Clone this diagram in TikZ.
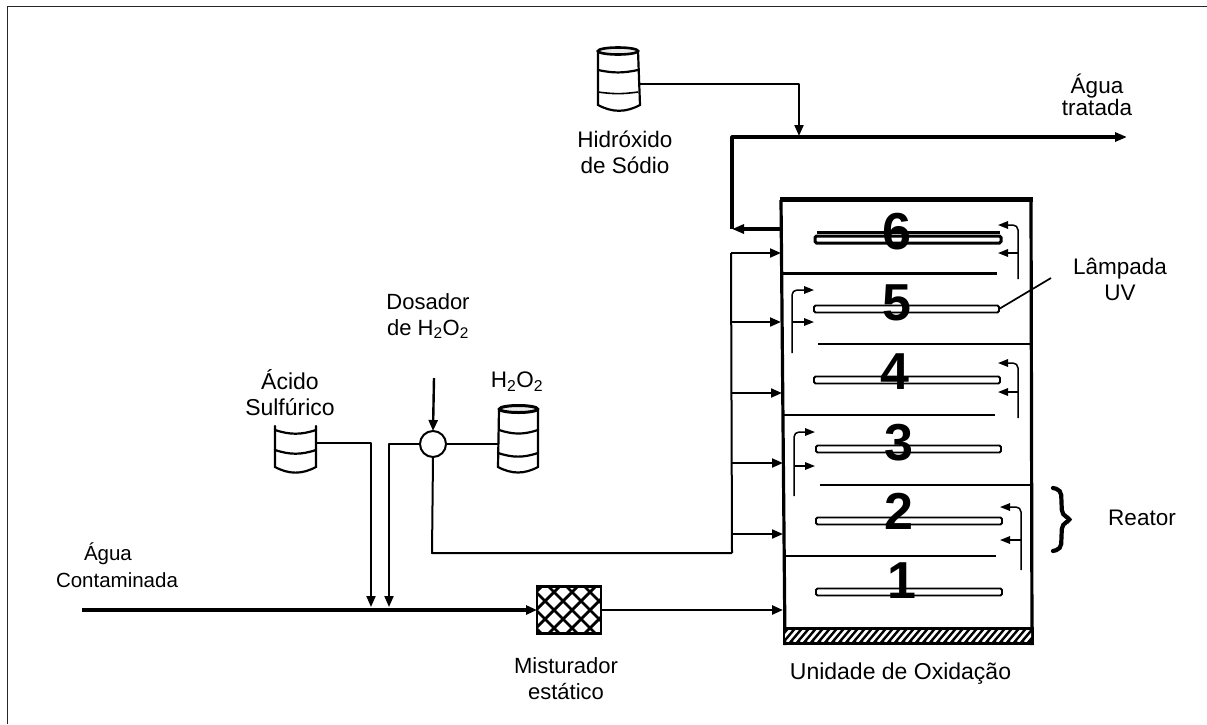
\documentclass[tikz,border=0pt]{standalone}
\usepackage{fontspec}
\setmainfont{Liberation Sans}
\usetikzlibrary{arrows.meta}
\tikzset{
  x=1pt,y=-1pt,
  every node/.style={inner sep=0pt,outer sep=0pt},
  lbl/.style={align=center,font=\fontsize{22.5}{26}\selectfont},
  num/.style={font=\bfseries\fontsize{52}{52}\selectfont},
  pipe/.style={draw=black,line width=2pt,line join=round},
  bigpipe/.style={draw=black,line width=3.2pt,line join=round},
  wall/.style={draw=black,line width=3.2pt},
  shelf/.style={draw=black,line width=2.2pt},
  lampbar/.style={draw=black,fill=white,line width=1.9pt,rounded corners=1.5pt,minimum height=7pt,anchor=west},
  flow/.style={draw=black,line width=1.5pt,rounded corners=5pt},
  tip/.style={-{Triangle[length=11pt,width=9pt]}},
  smalltip/.style={-{Triangle[length=10pt,width=7.5pt]}},
  drumline/.style={draw=black,line width=2.2pt,line cap=round},
}
\begin{document}
\begin{tikzpicture}
\useasboundingbox (0,0) rectangle (1207,724);
% frame
\draw[line width=1.8pt,draw=black!85] (7.5,724) -- (7.5,6.5) -- (1207,6.5);

% reactor walls
\draw[wall] (781,200) -- (785,645);
\draw[wall] (1031,200) -- (1032,645);
\draw[line width=4.5pt] (780,199.5) -- (1033,199.5);
% hatched base
\fill[black] (783,627) rectangle (1034,645);
\begin{scope}
\clip (785,630) rectangle (1031,641);
\foreach \h in {780,787,...,1040}{\draw[white,line width=2.6pt] (\h,642) -- (\h+11,629);}
\end{scope}
% shelves
\draw[shelf,line width=3.2pt] (781,273.5) -- (997,273.5);
\draw[shelf] (818,344) -- (1031,344);
\draw[shelf] (782,415) -- (995,415);
\draw[shelf] (820,485) -- (1031,485);
\draw[shelf] (786,556) -- (996,556);

% lamps
\draw[line width=3pt] (817,232) -- (1000,232);
\node[lampbar,minimum width=186pt,line width=3pt] (lamp6) at (815,239.5) {};
\node[lampbar,minimum width=185pt] (lamp5) at (814,309) {};
\node[lampbar,minimum width=186pt] (lamp4) at (814,380) {};
\node[lampbar,minimum width=185pt] (lamp3) at (816,449) {};
\node[lampbar,minimum width=186pt] (lamp2) at (816,521) {};
\node[lampbar,minimum width=186pt] (lamp1) at (816,592) {};

% numbers
\node[num] (n6) at (897,232) {6};
\node[num] (n5) at (897,303) {5};
\node[num] (n4) at (895,372) {4};
\node[num] (n3) at (899,443) {3};
\node[num] (n2) at (899,511) {2};
\node[num] (n1) at (902,581) {1};

% internal flow arrows, right side
\foreach \xb/\yb/\yt/\ym/\tp in {1018/279/225/253/998, 1018/418/363/392/998, 1021/570/507/540/1000}{
  \draw[flow,smalltip] (\xb,\yb) -- (\xb,\yt) -- (\tp,\yt);
  \draw[line width=1.5pt,smalltip] (\xb,\ym) -- (\tp,\ym);
}
% internal flow arrows, left side
\foreach \xb/\yb/\yt/\ym/\tp in {792/353/290/322/814, 794/496/432/466/815}{
  \draw[flow,smalltip] (\xb,\yb) -- (\xb,\yt) -- (\tp,\yt);
  \draw[line width=1.5pt,smalltip] (\xb,\ym) -- (\tp,\ym);
}

% manifold
\coordinate (cornerFeed) at (432,553);
\coordinate (manTop) at (731,253);
\coordinate (manBot) at (732,553);
\draw[pipe] (manTop) -- (manBot);
\foreach \y/\xx in {253/781,322/781,393/782,463/783,534/783}{
  \draw[line width=2pt,tip] (731,\y) -- (\xx,\y);
}

% mixer
\node[minimum width=64pt,minimum height=47pt] (mixer) at (569,610) {};
\begin{scope}
\clip (mixer.south west) rectangle (mixer.north east);
\foreach \c in {-60,-42,...,140}{
  \draw[line width=2.8pt] (530+\c,580) -- (530+\c+60,640);
  \draw[line width=2.8pt] (530+\c,640) -- (530+\c+60,580);
}
\end{scope}
\draw[line width=2.4pt] (mixer.south west) rectangle (mixer.north east);

% dosing circle
\node[circle,draw=black,line width=2pt,fill=white,minimum size=26pt] (dose) at (433,444) {};

% main line
\coordinate (inStart) at (82,610);
\coordinate (reactorIn) at (783,610);
\draw[bigpipe,tip] (inStart) -- (mixer.west);
\draw[line width=2.6pt,tip] (mixer.east) -- (reactorIn);

% acid drum
\draw[drumline] (275,426) -- (275,467) to[bend right=28] (316,467) -- (316,426);
\draw[drumline] (275,430) to[bend right=18] (316,430);
\draw[drumline] (275,450) to[bend right=18] (316,450);
% H2O2 drum
\draw[line width=3pt,fill=black!8] (518.5,409) ellipse (19pt and 3.5pt);
\draw[drumline] (499,409) -- (498,467) to[bend right=28] (538,467) -- (538,409);
\draw[drumline] (499,430) to[bend right=18] (538,430);
\draw[drumline] (498,453) to[bend right=18] (538,453);
% NaOH drum
\draw[line width=2.6pt,fill=black!8] (618,51) ellipse (20pt and 3.5pt);
\draw[drumline] (598,51) -- (598,105) to[bend right=28] (640,105) -- (638,51);
\draw[drumline] (598,70) to[bend right=12] (638,70);
\draw[line width=1.6pt] (598,92) to[bend right=8] (638,92);

% pipes
\coordinate (acidOut) at (316,443);
\coordinate (acidCorner) at (371,443);
\coordinate (acidIn) at (371,607);
\coordinate (doseCorner) at (389,444);
\coordinate (doseIn) at (389,607);
\coordinate (doseTop) at (434,378);
\coordinate (peroxideOut) at (498,444);
\draw[pipe,tip] (acidOut) -- (acidCorner) -- (acidIn);
\draw[pipe,tip] (dose.west) -- (doseCorner) -- (doseIn);
\draw[line width=2.4pt,tip] (doseTop) -- (dose.north);
\draw[pipe] (peroxideOut) -- (dose.east);
\draw[pipe] (dose.south) -- (cornerFeed) -- (manBot);

% NaOH and treated water
\coordinate (naohOut) at (638,84);
\coordinate (naohCorner) at (799,84);
\coordinate (naohIn) at (799,136);
\coordinate (outTop) at (732,137);
\coordinate (outEnd) at (1127,137);
\coordinate (outLow) at (732,229);
\coordinate (outBox) at (781,229);
\draw[pipe,tip] (naohOut) -- (naohCorner) -- (naohIn);
\draw[bigpipe,-{Triangle[length=12pt,width=9pt]}] (outLow) -- (outTop) -- (outEnd);
\draw[line width=3.2pt,{Triangle[length=12pt,width=9pt]}-] (outLow) -- (outBox);

% lamp leader
\coordinate (leaderEnd) at (1051,278);
\draw[line width=1.7pt] (lamp5.east) -- (leaderEnd);

% brace
\draw[line width=4.2pt,line cap=round,rounded corners=5pt] (1053,488) -- (1061,490) -- (1062,515) -- (1072,519.5) -- (1062,524) -- (1061,549) -- (1053,551);

% labels
\node[lbl,font=\fontsize{22.5}{22}\selectfont] (l1) at (1097,95) {Água\\tratada};
\node[lbl] (l2) at (625,152) {Hidróxido\\de Sódio};
\node[lbl,font=\fontsize{22}{26}\selectfont] (l3) at (428,316) {Dosador\\de H\textsubscript{2}O\textsubscript{2}};
\node[lbl,font=\fontsize{23}{26}\selectfont] (l4) at (290,393) {Ácido\\Sulfúrico};
\node[lbl] (l5) at (517,382) {H\textsubscript{2}O\textsubscript{2}};
\node[lbl,font=\fontsize{20.5}{26}\selectfont,anchor=west] (l6a) at (84,554) {Água};
\node[lbl,font=\fontsize{20.5}{26}\selectfont,anchor=west] (l6b) at (56,580) {Contaminada};
\node[lbl,font=\fontsize{22}{26}\selectfont] (l7) at (566,679) {Misturador\\estático};
\node[lbl,font=\fontsize{23}{26}\selectfont] (l8) at (900.5,674) {Unidade de Oxidação};
\node[lbl] (l9) at (1120,279) {Lâmpada\\UV};
\node[lbl] (l10) at (1142,518) {Reator};
\end{tikzpicture}
\end{document}
